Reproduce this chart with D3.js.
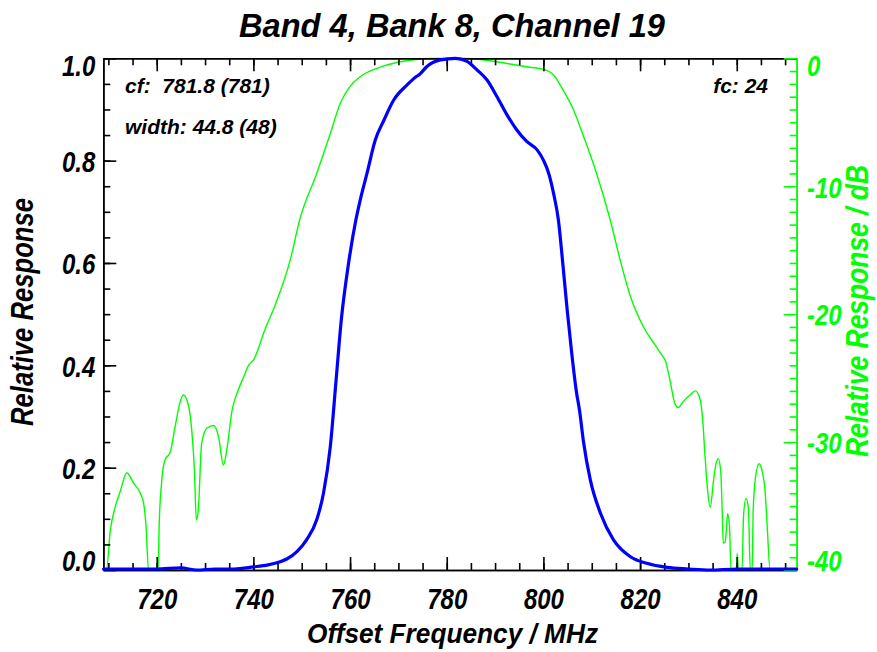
<!DOCTYPE html>
<html>
<head>
<meta charset="utf-8">
<script src="https://cdn.jsdelivr.net/npm/d3@7"></script>
<style>
  html, body { margin: 0; padding: 0; background: #fff; }
  svg { display: block; }
  text { font-family: "Liberation Sans", Arial, Helvetica, sans-serif; font-weight: bold; font-style: italic; }
</style>
</head>
<body>
<script>
// ---------------- data ----------------
const titleText = "Band 4, Bank 8, Channel 19";
const xLabelText = "Offset Frequency / MHz";
const yLabelText = "Relative Response";
const y2LabelText = "Relative Response / dB";
const annotLeft = ["cf:  781.8 (781)", "width: 44.8 (48)"];
const annotRight = "fc: 24";

const xTicks = [720, 740, 760, 780, 800, 820, 840];
const xMinorTicks = [710,715,720,725,730,735,740,745,750,755,760,765,770,775,780,785,790,795,800,805,810,815,820,825,830,835,840,845,850];
const yTicks = [0.0, 0.2, 0.4, 0.6, 0.8, 1.0];
const yMinorTicks = [0.05,0.1,0.15,0.2,0.25,0.3,0.35,0.4,0.45,0.5,0.55,0.6,0.65,0.7,0.75,0.8,0.85,0.9,0.95];
const dbTicks = [0, -10, -20, -30, -40];
const dbMinorTicks = [-1,-2,-3,-4,-5,-6,-7,-8,-9,-11,-12,-13,-14,-15,-16,-17,-18,-19,-21,-22,-23,-24,-25,-26,-27,-28,-29,-31,-32,-33,-34,-35,-36,-37,-38,-39];

// blue curve: linear relative response
const blueFreq = [709, 715, 720, 725, 728.3, 732, 736, 740, 743, 745.5, 747, 749, 751, 753.1, 754.5, 755.9, 757.1, 758.2, 759.7, 761.2, 762.1, 763.5, 765.2, 767, 769, 771.8, 773.8, 774.3, 775.9, 778.7, 781.8, 784.2, 786.3, 788.3, 790.4, 792.5, 794.5, 796.6, 798.7, 800, 801.1, 802.1, 803.1, 804.0, 804.9, 805.9, 806.8, 807.5, 808.3, 809.7, 811.8, 814.5, 818, 821.4, 825.6, 830, 834.5, 840, 846, 852.4];
const blueResp = [0.002, 0.002, 0.002, 0.004, 0.000, 0.002, 0.002, 0.006, 0.010, 0.016, 0.022, 0.036, 0.059, 0.098, 0.150, 0.240, 0.370, 0.490, 0.600, 0.684, 0.723, 0.775, 0.840, 0.879, 0.918, 0.948, 0.965, 0.968, 0.984, 0.997, 1.000, 0.994, 0.977, 0.958, 0.925, 0.889, 0.860, 0.837, 0.821, 0.801, 0.775, 0.736, 0.684, 0.600, 0.510, 0.420, 0.350, 0.310, 0.250, 0.176, 0.111, 0.059, 0.026, 0.013, 0.005, 0.002, 0.000, 0.002, 0.002, 0.002];

// green curve: response in dB (clipped at -40)
const greenFreq = [709, 709.6, 710.4, 711.4, 712.5, 713.8, 715.2, 716.6, 717.3, 717.8, 718.3, 720.3, 720.5, 721, 721.7, 722.8, 723.8, 724.9, 725.5, 726.6, 727.3, 727.8, 728.2, 728.6, 729.3, 730.4, 731.8, 732.8, 733.8, 734.5, 735.6, 736.6, 738, 739, 740, 742.4, 744.5, 747.6, 749.6, 753.1, 755.9, 758, 760, 762.1, 765.6, 770.4, 777.3, 781.8, 784.2, 789, 793.1, 797.2, 800, 802.1, 804.1, 806.2, 808.3, 811, 813.8, 815.9, 817.9, 821, 823.1, 824.5, 825.2, 826.2, 827.2, 827.9, 829, 830.4, 831.4, 832.3, 833, 833.4, 833.9, 834.5, 835.2, 835.7, 836.2, 836.7, 837, 837.2, 837.6, 837.9, 838.1, 838.5, 838.8, 839.9, 840.1, 840.3, 841.1, 841.4, 841.9, 842.4, 842.8, 843.2, 843.4, 843.9, 844.6, 845.2, 845.9, 846.3, 846.9, 852.4];
const greenDb = [-40, -40, -36.9, -35.1, -33.8, -32.4, -33.2, -34.0, -34.8, -36.6, -40, -40, -36.6, -33.2, -31.4, -30.8, -28.8, -26.8, -26.3, -27.2, -29.3, -32.2, -36.1, -35.3, -30.1, -28.9, -28.7, -29.6, -31.8, -30.6, -27.5, -26.2, -24.9, -24.0, -23.6, -21.2, -19.3, -15.8, -12.6, -9.0, -5.9, -3.5, -2.2, -1.44, -0.78, -0.27, -0.02, 0, -0.02, -0.19, -0.45, -0.7, -0.86, -1.3, -2.5, -4.0, -6.1, -9.0, -12.6, -15.8, -18.5, -21.2, -22.4, -23.2, -23.6, -25.2, -27.0, -27.3, -26.8, -26.3, -26.0, -26.5, -28.5, -30.9, -33.5, -35.1, -33.0, -31.7, -31.3, -32.4, -35.6, -37.9, -37.8, -36.6, -35.6, -36.6, -40, -40, -38.7, -40, -40, -35.8, -34.4, -35.1, -40, -40, -35.3, -32.7, -31.7, -32.2, -34.0, -36.6, -40, -40];

// ---------------- layout ----------------
const W = 877, H = 652;
const L = 103.3, R = 796.7, T = 58.3, B = 570;
const GREEN = "#00ff00", BLUE = "#0000ff";

const svg = d3.select("body").append("svg").attr("width", W).attr("height", H);

const x = d3.scaleLinear().domain([708.95, 852.4]).range([L, R]);
const y = d3.scaleLinear().domain([0, 1]).range([B, T]);
const yDb = d3.scaleLinear().domain([-40, 0]).range([B, T]);

// ---------------- curves ----------------
const greenData = greenFreq.map((f, i) => [f, greenDb[i]]);
const blueData = blueFreq.map((f, i) => [f, blueResp[i]]);

svg.append("path")
  .datum(greenData)
  .attr("fill", "none").attr("stroke", GREEN).attr("stroke-width", 1.4)
  .attr("stroke-linejoin", "round")
  .attr("d", d3.line().x(d => x(d[0])).y(d => yDb(d[1])).curve(d3.curveMonotoneX));

// ---------------- axes ----------------
const SX = 0.8; // horizontal condensing of tick labels
function styleAxis(g, color, sw) {
  g.select(".domain").attr("stroke", color).attr("stroke-width", sw);
  g.selectAll(".tick line").attr("stroke", color).attr("stroke-width", sw);
}

// bottom
const gB = svg.append("g").attr("transform", `translate(0,${B})`)
  .call(d3.axisBottom(x).tickValues(xTicks).tickSizeInner(-13).tickSizeOuter(0).tickPadding(18).tickFormat(d => String(d)));
styleAxis(gB, "#000", 1.6);
gB.selectAll("text").attr("font-size", 30).attr("fill", "#000").attr("transform", `scale(${SX},1)`);
const gBm = svg.append("g").attr("transform", `translate(0,${B})`)
  .call(d3.axisBottom(x).tickValues(xMinorTicks).tickSizeInner(-7).tickSizeOuter(0).tickFormat(""));
styleAxis(gBm, "#000", 1.6);

// top
const gT = svg.append("g").attr("transform", `translate(0,${T})`)
  .call(d3.axisTop(x).tickValues(xTicks).tickSizeInner(-13).tickSizeOuter(0).tickFormat(""));
styleAxis(gT, "#000", 1.6);
const gTm = svg.append("g").attr("transform", `translate(0,${T})`)
  .call(d3.axisTop(x).tickValues(xMinorTicks).tickSizeInner(-7).tickSizeOuter(0).tickFormat(""));
styleAxis(gTm, "#000", 1.6);

// left
const gL = svg.append("g").attr("transform", `translate(${L},0)`)
  .call(d3.axisLeft(y).tickValues(yTicks).tickSizeInner(-13).tickSizeOuter(0).tickPadding(8).tickFormat(d3.format(".1f")));
styleAxis(gL, "#000", 1.6);
gL.selectAll("text").attr("font-size", 30).attr("fill", "#000")
  .attr("x", -8 / SX).attr("transform", `scale(${SX},1)`)
  .attr("dy", d => d === 1 ? "17px" : (d === 0 ? "0px" : "0.36em"));
const gLm = svg.append("g").attr("transform", `translate(${L},0)`)
  .call(d3.axisLeft(y).tickValues(yMinorTicks).tickSizeInner(-7).tickSizeOuter(0).tickFormat(""));
styleAxis(gLm, "#000", 1.6);

// right (dB)
const gR = svg.append("g").attr("transform", `translate(${R},0)`)
  .call(d3.axisRight(yDb).tickValues(dbTicks).tickSizeInner(-13).tickSizeOuter(0).tickPadding(10.3).tickFormat(d => String(d)));
styleAxis(gR, GREEN, 1.6);
gR.selectAll("text").attr("font-size", 30).attr("fill", GREEN)
  .attr("x", 10.3 / SX).attr("transform", `scale(${SX},1)`)
  .attr("dy", d => d === 0 ? "17px" : (d === -40 ? "0px" : "0.36em"));
const gRm = svg.append("g").attr("transform", `translate(${R},0)`)
  .call(d3.axisRight(yDb).tickValues(dbMinorTicks).tickSizeInner(-7).tickSizeOuter(0).tickFormat(""));
styleAxis(gRm, GREEN, 1.6);

// blue curve on top
svg.append("path")
  .datum(blueData)
  .attr("fill", "none").attr("stroke", BLUE).attr("stroke-width", 3.2)
  .attr("stroke-linejoin", "round").attr("stroke-linecap", "round")
  .attr("d", d3.line().x(d => x(d[0])).y(d => y(d[1])).curve(d3.curveMonotoneX));

// ---------------- texts ----------------
svg.append("text").attr("x", 452).attr("y", 37.3).attr("text-anchor", "middle")
  .attr("font-size", 34).attr("textLength", 426).attr("lengthAdjust", "spacingAndGlyphs")
  .attr("fill", "#000").text(titleText);

svg.append("text").attr("x", 452.5).attr("y", 643).attr("text-anchor", "middle")
  .attr("font-size", 28).attr("textLength", 291).attr("lengthAdjust", "spacingAndGlyphs")
  .attr("fill", "#000").text(xLabelText);

svg.append("text").attr("transform", "translate(33,312) rotate(-90)").attr("text-anchor", "middle")
  .attr("font-size", 32).attr("textLength", 228).attr("lengthAdjust", "spacingAndGlyphs")
  .attr("fill", "#000").text(yLabelText);

svg.append("text").attr("transform", "translate(868,311) rotate(-90)").attr("text-anchor", "middle")
  .attr("font-size", 31).attr("textLength", 292).attr("lengthAdjust", "spacingAndGlyphs")
  .attr("fill", GREEN).text(y2LabelText);

svg.append("text").attr("x", 125).attr("y", 93.3).attr("font-size", 21)
  .attr("xml:space", "preserve").style("white-space", "pre")
  .attr("fill", "#000").text(annotLeft[0]);
svg.append("text").attr("x", 125).attr("y", 134.3).attr("font-size", 21)
  .attr("fill", "#000").text(annotLeft[1]);
svg.append("text").attr("x", 768).attr("y", 93.3).attr("font-size", 21).attr("text-anchor", "end")
  .attr("fill", "#000").text(annotRight);
</script>
</body>
</html>
